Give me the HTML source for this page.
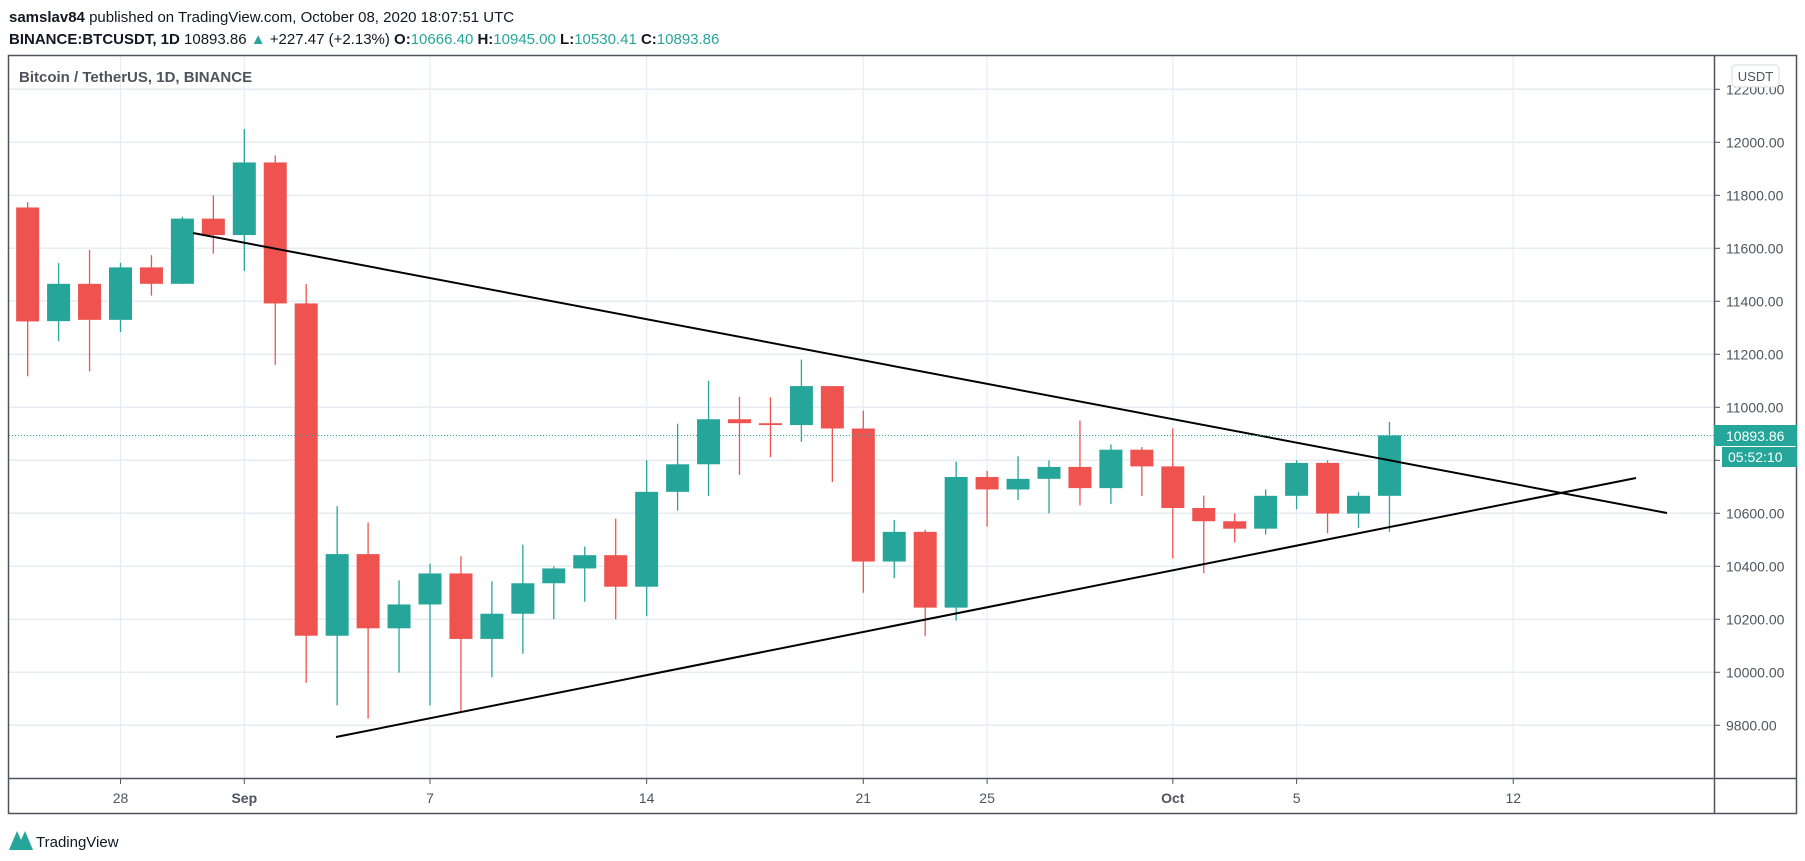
<!DOCTYPE html>
<html><head><meta charset="utf-8">
<style>
html,body{margin:0;padding:0;background:#fff;}
body{width:1805px;height:861px;overflow:hidden;font-family:"Liberation Sans",sans-serif;}
</style></head>
<body>
<svg id="s" width="1805" height="861" xmlns="http://www.w3.org/2000/svg" style="position:absolute;left:0;top:0">
<text x="9" y="22" font-size="15" fill="#131722"><tspan font-weight="bold">samslav84</tspan> published on TradingView.com, October 08, 2020 18:07:51 UTC</text>
<text x="9" y="44" font-size="15" fill="#131722"><tspan font-weight="bold">BINANCE:BTCUSDT, 1D</tspan> 10893.86 <tspan fill="#26a69a">▲</tspan> +227.47 (+2.13%) <tspan font-weight="bold">O:</tspan><tspan fill="#26a69a">10666.40</tspan> <tspan font-weight="bold">H:</tspan><tspan fill="#26a69a">10945.00</tspan> <tspan font-weight="bold">L:</tspan><tspan fill="#26a69a">10530.41</tspan> <tspan font-weight="bold">C:</tspan><tspan fill="#26a69a">10893.86</tspan></text>
<g id="grid"></g>
<g id="candles"></g>
<line x1="193" y1="233" x2="1667" y2="513" stroke="#000" stroke-width="2"/>
<line x1="336" y1="737" x2="1636" y2="478" stroke="#000" stroke-width="2"/>
<line x1="9" y1="435.5" x2="1714" y2="435.5" stroke="#26a69a" stroke-width="1" stroke-dasharray="1,2"/>
<rect x="8.5" y="55.5" width="1788" height="758" fill="none" stroke="#50535e" stroke-width="1.5"/>
<line x1="1714.5" y1="55" x2="1714.5" y2="814" stroke="#50535e" stroke-width="1.5"/>
<line x1="8" y1="778.5" x2="1797" y2="778.5" stroke="#50535e" stroke-width="1.5"/>
<text x="19" y="82" font-size="15" font-weight="bold" fill="#50535e">Bitcoin / TetherUS, 1D, BINANCE</text>
<g id="axes" font-size="14" fill="#50535e"></g>
<rect x="1732" y="65" width="47" height="22" rx="4" fill="#fff" stroke="#d6dcde"/>
<text x="1755.5" y="81" font-size="13" fill="#50535e" text-anchor="middle">USDT</text>
<rect x="1714" y="425" width="83" height="21" fill="#26a69a"/>
<text x="1726" y="441" font-size="14" fill="#fff">10893.86</text>
<rect x="1722" y="447" width="75" height="20" fill="#26a69a"/>
<text x="1728" y="462" font-size="14" fill="#fff">05:52:10</text>
<path d="M9 850 L17 831 L21 840 L25 831 L33 850 Z" fill="#26a69a"/>
<text x="36" y="847" font-size="15" fill="#131722">TradingView</text>
</svg>
<script>
var NS="http://www.w3.org/2000/svg";
function el(p,t,a,txt){var e=document.createElementNS(NS,t);for(var k in a)e.setAttribute(k,a[k]);if(txt)e.textContent=txt;document.getElementById(p).appendChild(e);}
function Y(p){return 142.3+(12000-p)*0.265;}
function X(d){return 244.3+30.95*d;}
for(var p=9800;p<=12200;p+=200){var y=Y(p);
 el("grid","line",{x1:9,x2:1714,y1:y,y2:y,stroke:"#e6eef4","stroke-width":1.5});
 el("axes","line",{x1:1714,x2:1720,y1:y,y2:y,stroke:"#50535e"});
 if(p!=10800) el("axes","text",{x:1726,y:y+5},p.toFixed(2));}
var labs=[[-4,"28"],[0,"Sep"],[6,"7"],[13,"14"],[20,"21"],[24,"25"],[30,"Oct"],[34,"5"],[41,"12"]];
labs.forEach(function(l){var x=X(l[0]);
 el("grid","line",{x1:x,x2:x,y1:56,y2:778,stroke:"#e6eef4","stroke-width":1.2});
 el("axes","line",{x1:x,x2:x,y1:778,y2:784,stroke:"#50535e"});
 el("axes","text",{x:x,y:803,"text-anchor":"middle","font-weight":(l[1]=="Sep"||l[1]=="Oct")?"bold":"normal"},l[1]);});
var d=[[11754,11774,11117,11324],[11325,11544,11250,11466],[11466,11594,11135,11330],[11330,11545,11284,11528],[11528,11574,11421,11466],[11466,11719,11465,11712],[11712,11800,11580,11650],[11650,12050,11515,11924],[11924,11950,11160,11392],[11392,11465,9960,10138],[10138,10627,9875,10446],[10446,10565,9825,10166],[10166,10347,9999,10256],[10256,10410,9875,10373],[10373,10438,9850,10126],[10126,10343,9981,10221],[10221,10482,10070,10336],[10336,10400,10200,10392],[10392,10475,10266,10442],[10442,10580,10200,10323],[10323,10800,10212,10681],[10681,10938,10610,10785],[10785,11100,10665,10955],[10955,11040,10745,10940],[10940,11038,10812,10933],[10933,11180,10870,11080],[11080,11080,10718,10920],[10920,10988,10300,10418],[10418,10575,10355,10530],[10530,10538,10136,10244],[10244,10795,10195,10737],[10737,10760,10550,10690],[10690,10815,10650,10730],[10730,10800,10600,10775],[10775,10950,10630,10695],[10695,10860,10635,10840],[10840,10850,10665,10777],[10777,10920,10430,10620],[10620,10667,10374,10570],[10570,10600,10490,10542],[10542,10690,10520,10666],[10666,10800,10615,10790],[10790,10800,10525,10599],[10599,10680,10545,10666],[10666,10945,10530,10894]];
d.forEach(function(c,i){var x=X(i-7);var up=c[3]>=c[0];var col=up?"#26a69a":"#ef5350";
 el("candles","line",{x1:x,x2:x,y1:Y(c[1]),y2:Y(c[2]),stroke:col,"stroke-width":1.3});
 var t=Y(Math.max(c[0],c[3])),b=Y(Math.min(c[0],c[3]));
 el("candles","rect",{x:x-11.5,y:t,width:23,height:Math.max(1.5,b-t),fill:col});});
</script>
</body></html>
